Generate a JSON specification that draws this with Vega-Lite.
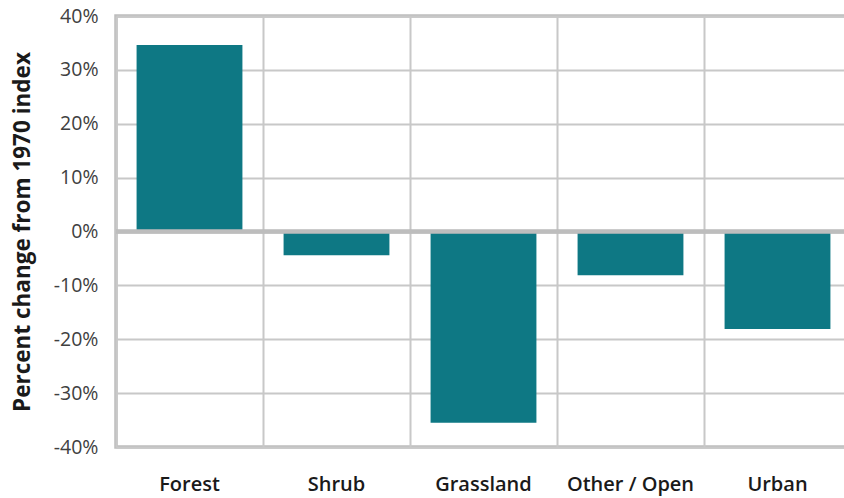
{
  "$schema": "https://vega.github.io/schema/vega-lite/v6.json",
  "autosize": "none",
  "padding": {"left": 116, "top": 16, "right": 0, "bottom": 51},
  "width": 735,
  "height": 431,
  "background": "white",
  "config": {
    "view": {"stroke": "#bdbdbd", "strokeWidth": 3.5},
    "font": "Open Sans"
  },
  "data": {
    "values": [
      {"cover": "Forest", "change": 0.346},
      {"cover": "Shrub", "change": -0.044},
      {"cover": "Grassland", "change": -0.355},
      {"cover": "Other / Open", "change": -0.081},
      {"cover": "Urban", "change": -0.181}
    ]
  },
  "layer": [
    {
      "mark": {"type": "bar", "color": "#0e7884", "width": {"band": 0.72}},
      "encoding": {
        "x": {
          "field": "cover",
          "type": "nominal",
          "sort": null,
          "scale": {"paddingInner": 0, "paddingOuter": 0},
          "axis": {
            "title": null,
            "labelAngle": 0,
            "ticks": false,
            "domain": false,
            "grid": true,
            "bandPosition": 0,
            "gridColor": "#c8c8c8",
            "gridWidth": 2,
            "labelFont": "Open Sans",
            "labelFontSize": 20,
            "labelFontWeight": 600,
            "labelColor": "#1a1a1a",
            "labelPadding": 27
          }
        },
        "y": {
          "field": "change",
          "type": "quantitative",
          "scale": {"domain": [-0.4, 0.4], "nice": false},
          "axis": {
            "title": "Percent change from 1970 index",
            "titleFont": "Open Sans",
            "titleFontSize": 22.5,
            "titleFontWeight": "bold",
            "titleColor": "#1a1a1a",
            "titlePadding": 19,
            "format": ".0%",
            "labelExpr": "replace(datum.label, '\u2212', '-')",
            "values": [-0.4, -0.3, -0.2, -0.1, 0, 0.1, 0.2, 0.3, 0.4],
            "ticks": false,
            "domain": false,
            "grid": true,
            "gridColor": "#c8c8c8",
            "gridWidth": 2,
            "labelFont": "Open Sans",
            "labelFontSize": 19.5,
            "labelColor": "#404040",
            "labelPadding": 18
          }
        }
      }
    },
    {
      "mark": {"type": "rule", "color": "#bdbdbd", "strokeWidth": 3.5},
      "encoding": {"y": {"datum": 0}}
    }
  ]
}
